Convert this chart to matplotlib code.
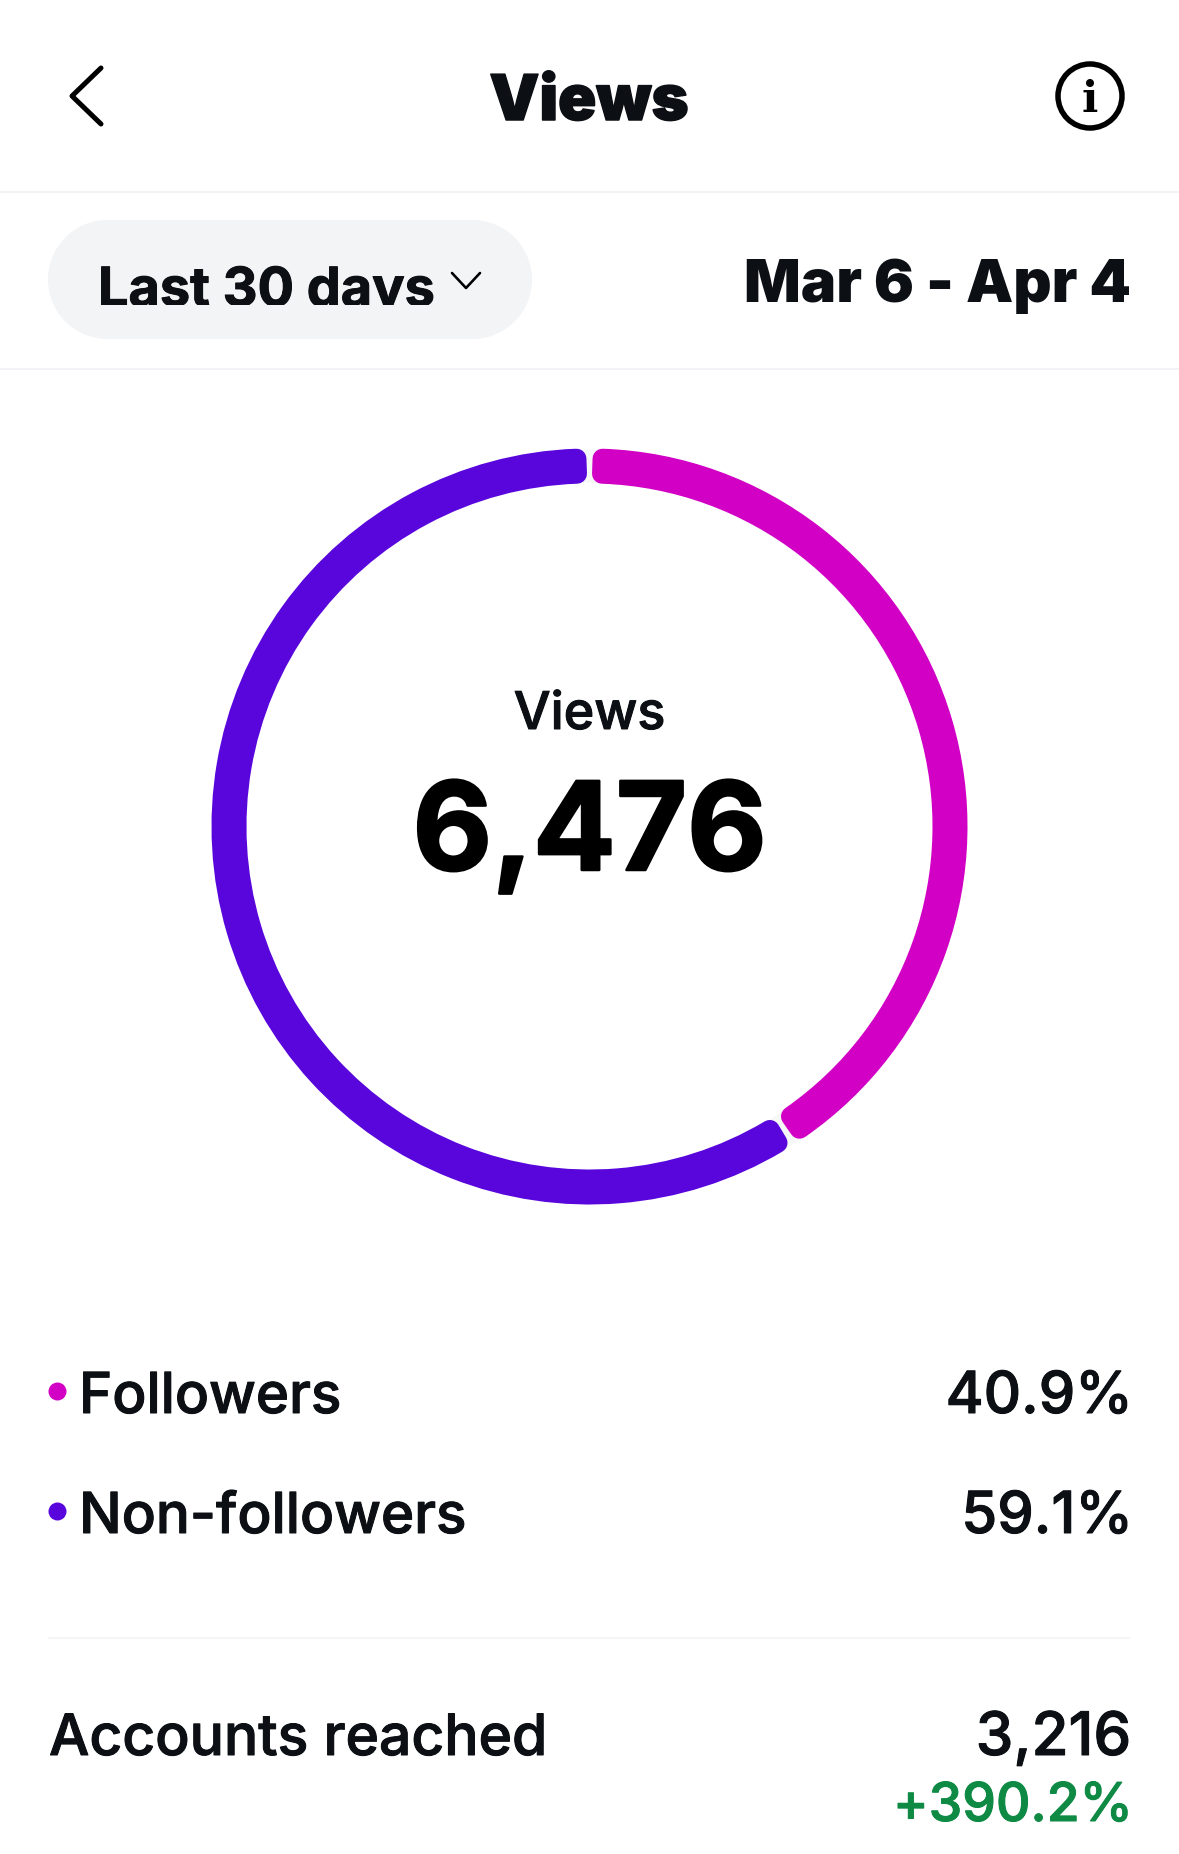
import matplotlib
matplotlib.use("Agg")
import matplotlib.pyplot as plt
import numpy as np
from matplotlib.patches import Wedge, Circle, Rectangle
import matplotlib.patheffects as pe

# Data
segment_labels = ["Followers", "Non-followers"]
segment_shares = [40.9, 59.1]
segment_share_labels = ["40.9%", "59.1%"]
segment_colors = ["#D100C4", "#5806DC"]
total_label = "Views"
total_value = "6,476"
page_title = "Views"
period_label = "Last 30 days"
date_range = "Mar 6 - Apr 4"
reach_label = "Accounts reached"
reach_value = "3,216"
reach_change = "+390.2%"

INK = "#0C1014"
FONT = "Inter"

W, H = 1179, 1854
fig = plt.figure(figsize=(W / 100, H / 100), dpi=100, facecolor="white")
ax = fig.add_axes([0, 0, 1, 1])
ax.set_xlim(0, W)
ax.set_ylim(H, 0)
ax.axis("off")

PT = 72 / 100  # points per pixel


def label(x, y, s, px, weight="normal", color=INK, ha="left", stroke=0.0, **kw):
    t = ax.text(x, y, s, fontsize=px * PT, family=FONT, fontweight=weight,
                color=color, ha=ha, va="baseline", **kw)
    if stroke:
        t.set_path_effects([pe.withStroke(linewidth=stroke * PT, foreground=color)])
    return t


# Header
for y in (192, 369):
    ax.plot([0, W], [y, y], color="#EFF1F4", lw=1.6 * PT, solid_capstyle="butt")
ax.plot([48, 1130], [1638, 1638], color="#F5F5F6", lw=2 * PT, solid_capstyle="butt")

ax.plot([101, 72, 101], [68, 96, 124], color="#000000", lw=5 * PT,
        solid_capstyle="round", solid_joinstyle="round")
label(589, 120, page_title, 63, weight="black", ha="center", stroke=1.5)
ax.add_patch(Circle((1090, 96), 32, fc="none", ec="#000000", lw=5.5 * PT))
ax.text(1090, 112, "i", fontsize=43 * PT, family="DejaVu Serif", fontweight="bold",
        ha="center", va="baseline", color="#000000")

# Period selector
PILL = "#F3F4F6"
ax.add_patch(Rectangle((107.5, 220), 365, 119, fc=PILL, ec="none"))
ax.add_patch(Circle((107.5, 279.5), 59.5, fc=PILL, ec="none"))
ax.add_patch(Circle((472.5, 279.5), 59.5, fc=PILL, ec="none"))
clip = Rectangle((0, 220), W, 85, transform=ax.transData)
t = label(98, 306, period_label, 54, weight="bold", stroke=1.0)
t.set_clip_on(True)
t.set_clip_path(clip)
ax.plot([452, 466, 480], [273, 288, 273], color="#000000", lw=2.6 * PT,
        solid_capstyle="round", solid_joinstyle="round")
label(1131, 302, date_range, 59.5, weight="black", ha="right")

# Ring drawn from the shares
cx, cy = 589.5, 826.5
R_out, band = 378.0, 35.0
corner = 10.0
half_gap = 2.8
ax.add_patch(Wedge((cx, cy), R_out - 1, 0, 360, width=band - 2, fc="#F6F8F8", ec="none"))
R_mid = R_out - band / 2
start = 0.0
for share, col in zip(segment_shares, segment_colors):
    sweep = share / sum(segment_shares) * 360
    inset = np.degrees((half_gap + corner) / R_mid)
    ax.add_patch(Wedge((cx, cy), R_out - corner,
                       -90 + start + inset, -90 + start + sweep - inset,
                       width=band - 2 * corner, fc=col, ec=col, lw=2 * corner * PT,
                       joinstyle="round"))
    start += sweep

label(589.5, 729, total_label, 52, weight="medium", ha="center", stroke=1.0)
label(589.5, 870, total_value, 122.5, weight="bold", color="#000000", ha="center", stroke=2.5)

# Legend rows
row_y = [1413, 1533]
for y, name, val, col in zip(row_y, segment_labels, segment_share_labels, segment_colors):
    ax.scatter([56.5], [y - 22], s=(18 * PT) ** 2, color=col, linewidths=0)
    label(79, y, name, 56.5, weight="medium", stroke=1.0)
    label(1133, y, val, 58, weight="medium", ha="right", stroke=1.0)

# Reach
label(49, 1755, reach_label, 57, weight="medium", stroke=1.0)
label(1131, 1755, reach_value, 60, weight="medium", ha="right", stroke=1.0)
label(1133, 1821, reach_change, 53.5, weight="medium", color="#0F8A45", ha="right", stroke=1.0)

fig.savefig("out.png", dpi=100, facecolor="white")
